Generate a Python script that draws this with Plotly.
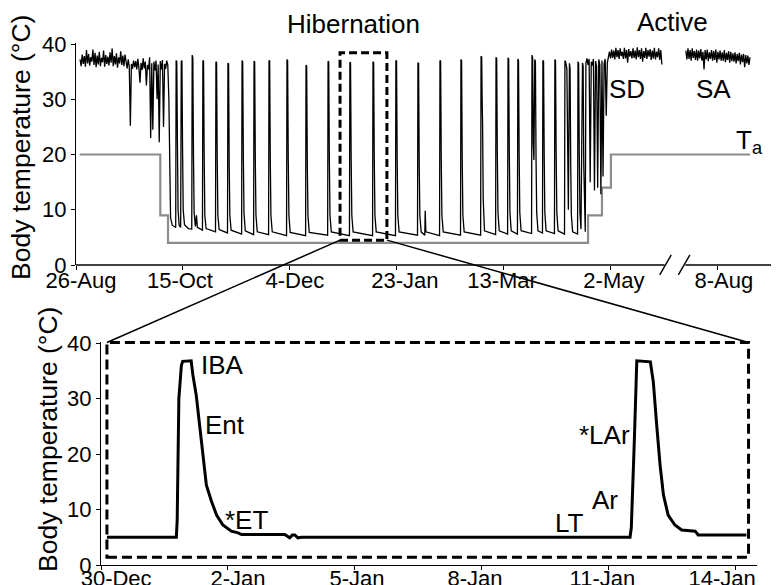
import plotly.graph_objects as go

W, H = 780, 585
FONT = "Liberation Sans, Arial, Helvetica, sans-serif"

# ---------------- DATA : top panel (days since 26-Aug) ----------------
pre_start_day = 1.9
pre_step_day = 0.5
pre_temp = [
    37.2, 36.0, 38.1, 36.4, 37.8, 35.9, 38.9, 36.5, 38.2, 36.1, 37.6, 36.8, 39.0, 36.2,
    38.4, 35.8, 37.9, 36.3, 38.6, 36.0, 37.5, 36.7, 38.8, 35.9, 38.0, 36.4, 37.7, 36.1,
    38.5, 36.6, 39.2, 36.0, 37.8, 36.3, 38.3, 35.7, 37.6, 36.5, 38.7, 36.2, 37.9, 36.0,
    38.1,
    36.8, 35.6, 37.2, 35.9, 25.2, 36.4, 35.5, 37.0, 35.8, 36.9, 35.4, 37.3, 35.7, 33.0,
    36.6, 35.3, 37.4, 35.6, 36.8, 32.5, 36.2, 35.4, 37.6, 23.0, 36.5, 24.5, 36.8, 35.2,
    37.0, 30.0, 36.3, 22.2, 36.9, 35.4, 37.1, 25.0, 36.4, 35.5, 37.0, 36.2,
]

hib_points = [
    (43.4, 30.0), (43.8, 14.0), (44.2, 8.5), (45.0, 7.2), (46.6, 6.8),
    (46.8, 37.0), (47.1, 36.8), (47.4, 22.0), (47.7, 10.0), (48.2, 7.2), (48.9, 6.8),
    (49.2, 36.8), (49.5, 37.0), (49.8, 21.0), (50.1, 10.0), (50.7, 7.3), (52.5, 6.6), (54.1, 6.5),
    (54.3, 38.0), (54.6, 37.5), (54.9, 20.0), (55.2, 9.5), (55.8, 7.0), (56.3, 9.0), (56.7, 6.8), (59.1, 6.3),
    (59.3, 36.9), (59.6, 37.0), (59.9, 20.0), (60.2, 9.0), (60.8, 6.6), (65.2, 6.0),
    (65.4, 36.8), (65.7, 36.6), (66.0, 19.0), (66.3, 9.0), (66.9, 6.4), (70.8, 5.8),
    (71.0, 36.5), (71.3, 36.4), (71.6, 18.0), (71.9, 9.0), (72.5, 6.3), (77.4, 5.6),
    (77.6, 37.0), (77.9, 36.8), (78.2, 20.0), (78.5, 9.5), (79.1, 6.2), (83.0, 5.5),
    (83.2, 36.9), (83.5, 36.8), (83.8, 19.0), (84.1, 9.0), (84.7, 6.0), (90.0, 5.5),
    (90.2, 37.0), (90.5, 36.9), (90.8, 19.0), (91.1, 9.0), (91.7, 6.0), (98.4, 5.3),
    (98.6, 37.2), (98.9, 37.0), (99.2, 19.0), (99.5, 9.0), (100.1, 5.9), (107.3, 5.3),
    (107.5, 36.2), (107.8, 36.0), (108.1, 18.0), (108.4, 9.0), (109.0, 5.9), (117.6, 5.4),
    (117.8, 36.9), (118.1, 36.8), (118.4, 19.0), (118.7, 9.0), (119.3, 6.0), (127.8, 5.3),
    (128.0, 36.7), (128.3, 36.6), (128.6, 19.0), (128.9, 9.0), (129.5, 6.0), (138.6, 5.3),
    (138.8, 36.8), (139.1, 36.6), (139.4, 19.0), (139.7, 9.0), (140.3, 6.0), (149.3, 5.3),
    (149.5, 37.0), (149.8, 36.9), (150.1, 19.0), (150.4, 9.0), (151.0, 6.0), (159.6, 5.4),
    (159.8, 36.6), (160.1, 36.5), (160.4, 18.0), (160.7, 9.0), (161.3, 6.0), (163.0, 5.4),
    (163.2, 9.8), (163.5, 6.0), (169.9, 5.3),
    (170.1, 37.0), (170.4, 36.9), (170.7, 19.0), (171.0, 9.0), (171.6, 6.0), (179.7, 5.4),
    (179.9, 37.2), (180.2, 37.0), (180.5, 19.0), (180.8, 9.0), (181.4, 6.0), (189.1, 5.4),
    (189.3, 37.8), (189.6, 37.6), (189.8, 30.0), (190.0, 26.0), (190.3, 12.0), (190.9, 6.2), (196.1, 5.5),
    (196.3, 37.6), (196.6, 37.3), (196.9, 20.0), (197.2, 9.5), (197.8, 6.2), (201.7, 5.6),
    (201.9, 37.5), (202.2, 37.3), (202.5, 20.0), (202.8, 9.5), (203.4, 6.2), (206.3, 5.6),
    (206.5, 37.3), (206.8, 37.0), (207.1, 20.0), (207.4, 9.5), (208.0, 6.2), (212.9, 5.7),
    (213.1, 38.0), (213.4, 37.5), (213.7, 22.0), (214.0, 19.0), (214.4, 37.2), (214.7, 36.8),
    (215.0, 19.0), (215.3, 9.5), (215.9, 6.2), (218.0, 5.8),
    (218.2, 37.0), (218.5, 36.9), (218.8, 20.0), (219.1, 9.5), (219.7, 6.2), (223.6, 5.7),
    (223.8, 37.2), (224.1, 37.0), (224.4, 20.0), (224.7, 9.5), (225.3, 6.2), (228.3, 5.6),
    (228.5, 37.0), (228.8, 36.8), (229.4, 35.5), (229.8, 22.0), (230.1, 10.0), (230.6, 36.5),
    (230.9, 35.5), (231.2, 18.0), (231.5, 9.0), (232.1, 6.0), (234.4, 5.6),
    (234.6, 36.8), (234.9, 36.5), (235.2, 20.0), (235.5, 9.5), (236.0, 6.5), (236.7, 36.6),
    (237.0, 36.0), (237.3, 18.0), (237.6, 8.5), (238.0, 6.0),
]

act1_start_day = 238.3
act1_step_day = 0.5
act1_temp = [
    36.5, 37.4, 36.2, 37.3, 15.0, 36.8, 36.1, 37.3, 13.5, 36.9, 36.0, 14.0, 37.2, 36.3,
    12.8, 37.0, 16.0, 36.4, 37.3, 27.0, 36.6, 37.8,
    38.6, 37.4, 39.0, 37.5, 38.8, 37.2, 39.3, 37.6, 38.9, 37.3, 39.2, 37.8, 38.6, 37.3,
    39.3, 37.4, 38.9, 36.6, 39.1, 37.7, 38.7, 37.4, 39.2, 37.5, 38.8, 37.2, 39.4, 37.6,
    38.9, 37.3, 39.2, 36.8, 38.7, 37.5, 39.3, 37.3, 38.9, 37.7, 39.1, 37.1, 38.8, 37.4,
    39.3, 37.2, 38.6, 37.6, 39.2, 37.1, 38.9, 36.3,
]

act2_start_day = 285.0
act2_step_day = 0.5
act2_temp = [
    38.8, 37.2, 39.2, 37.3, 38.9, 37.0, 39.2, 37.5, 38.7, 37.1, 39.0, 37.0, 38.8, 37.4,
    39.1, 37.0, 38.6, 35.4, 38.9, 37.2, 39.0, 36.9, 38.5, 37.3, 38.9, 37.0, 38.7, 37.1,
    39.0, 36.6, 38.6, 37.2, 38.8, 37.0, 38.5, 37.0, 38.9, 36.7, 38.4, 37.1, 38.7, 36.6,
    38.6, 36.9, 38.3, 36.8, 38.5, 36.5, 38.2, 36.9, 38.4, 36.3, 38.1, 36.7, 38.2, 35.8,
    38.0, 36.5, 37.9, 36.2, 37.6,
]

ta_day = [1.7, 39.4, 43.0, 239.3, 245.8, 250.0, 315.0]
ta_temp = [20, 9, 4, 9, 14, 20, 20]

# tick marks and (slightly offset, as in the original figure) tick-label positions
top_tick_days = [0, 50, 100, 150, 200, 250, 300]
top_label_days = [6.5, 52.8, 106.5, 157.9, 203.3, 255.6, 307.0]
top_tick_labels = ["26-Aug", "15-Oct", "4-Dec", "23-Jan", "13-Mar", "2-May", "8-Aug"]
y_ticks = [0, 10, 20, 30, 40]

# ---------------- DATA : bottom panel (days since 30-Dec) ----------------
zoom_day = [0.14, 1.78, 1.80, 1.84, 1.90, 1.93, 2.13, 2.17, 2.25, 2.33, 2.41, 2.49, 2.61,
            2.73, 2.88, 3.08, 3.24, 3.32, 4.34, 4.46, 4.52, 4.58, 4.65, 4.74, 12.50, 12.53,
            12.60, 12.66, 12.98, 13.05, 13.13, 13.21, 13.29, 13.40, 13.56, 13.72, 14.04,
            14.11, 15.25]
zoom_temp = [5.0, 5.0, 8.0, 30.0, 36.0, 36.7, 36.8, 34.3, 30.6, 25.2, 19.3, 14.4, 11.5,
             9.0, 7.2, 6.1, 5.8, 5.5, 5.5, 4.9, 5.4, 5.4, 4.9, 5.0, 5.0, 6.7,
             22.0, 36.8, 36.6, 33.0, 25.2, 18.0, 12.6, 9.0, 7.2, 6.3, 6.1,
             5.4, 5.4]
bottom_tick_days = [0, 3, 6, 9, 12, 15]
bottom_label_days = [0.57, 3.45, 6.26, 9.05, 12.06, 14.89]
bottom_tick_labels = ["30-Dec", "2-Jan", "5-Jan", "8-Jan", "11-Jan", "14-Jan"]

# zoom window shown on the top panel (days since 26-Aug, degC)
zoom_win_day = [123.4, 145.3]
zoom_win_temp = [4.5, 38.4]
# frame of the bottom panel (days since 30-Dec, degC)
frame_day = [0.14, 15.3]
frame_temp = [1.4, 40.1]
# x-axis break on the top panel (days)
break_day = [275.6, 284.3]

# ---------------- layout geometry ----------------
TOP_XR, TOP_XD = [0, 324.8], [68 / W, 763 / W]
TOP_YR, TOP_YD = [0, 40.2], [1 - 257 / H, 1 - 34.9 / H]
BOT_XR, BOT_XD = [0, 15.5], [93 / W, 749 / W]
BOT_YR, BOT_YD = [0, 40.2], [1 - 557 / H, 1 - 333.9 / H]


def conv(v, r, d):
    return d[0] + (v - r[0]) / (r[1] - r[0]) * (d[1] - d[0])


def tpx(v): return conv(v, TOP_XR, TOP_XD)
def tpy(v): return conv(v, TOP_YR, TOP_YD)
def bpx(v): return conv(v, BOT_XR, BOT_XD)
def bpy(v): return conv(v, BOT_YR, BOT_YD)


# ---------------- traces ----------------
pre_day = [pre_start_day + i * pre_step_day for i in range(len(pre_temp))]
act1_day = [act1_start_day + i * act1_step_day for i in range(len(act1_temp))]
act2_day = [act2_start_day + i * act2_step_day for i in range(len(act2_temp))]
hib_day = [p[0] for p in hib_points]
hib_temp = [p[1] for p in hib_points]

tb_day = pre_day + hib_day + act1_day + [None] + act2_day
tb_temp = pre_temp + hib_temp + act1_temp + [None] + act2_temp

fig = go.Figure()
fig.add_trace(go.Scatter(x=ta_day, y=ta_temp, mode="lines", line=dict(color="#8c8c8c", width=2.2, shape="hv"),
                         xaxis="x", yaxis="y", hoverinfo="skip"))
fig.add_trace(go.Scatter(x=tb_day, y=tb_temp, mode="lines", line=dict(color="black", width=1.3),
                         xaxis="x", yaxis="y", connectgaps=False, hoverinfo="skip"))
fig.add_trace(go.Scatter(x=zoom_day, y=zoom_temp, mode="lines", line=dict(color="black", width=3),
                         xaxis="x2", yaxis="y2", hoverinfo="skip"))
# empty traces that only register the tick-label axes
fig.add_trace(go.Scatter(x=[], y=[], mode="lines", xaxis="x3", yaxis="y", hoverinfo="skip"))
fig.add_trace(go.Scatter(x=[], y=[], mode="lines", xaxis="x4", yaxis="y2", hoverinfo="skip"))

tickfont = dict(family=FONT, size=22, color="black")
axis_common = dict(ticks="outside", ticklen=4, tickwidth=1.2, tickcolor="black",
                   showgrid=False, zeroline=False, tickfont=tickfont, automargin=False)
label_axis = dict(ticks="", showline=False, showgrid=False, zeroline=False, tickfont=tickfont,
                  automargin=False, ticklabelshift=-9)

fig.update_layout(
    width=W, height=H, margin=dict(l=0, r=0, t=0, b=0),
    paper_bgcolor="white", plot_bgcolor="rgba(0,0,0,0)", showlegend=False,
    font=dict(family=FONT, color="black"),
    xaxis=dict(domain=TOP_XD, range=TOP_XR, tickvals=top_tick_days, showticklabels=False,
               showline=False, anchor="y", **axis_common),
    yaxis=dict(domain=TOP_YD, range=TOP_YR, tickvals=y_ticks, showline=True, linecolor="black",
               linewidth=1.3, anchor="x", **axis_common),
    xaxis2=dict(domain=BOT_XD, range=BOT_XR, tickvals=bottom_tick_days, showticklabels=False,
                showline=True, linecolor="black", linewidth=1.3, anchor="y2", **axis_common),
    yaxis2=dict(domain=BOT_YD, range=BOT_YR, tickvals=y_ticks, showline=True, linecolor="black",
                linewidth=1.3, anchor="x2", **axis_common),
    xaxis3=dict(domain=TOP_XD, range=TOP_XR, tickvals=top_label_days, ticktext=top_tick_labels,
                overlaying="x", anchor="y", side="bottom", ticklabelstandoff=0, **label_axis),
    xaxis4=dict(domain=BOT_XD, range=BOT_XR, tickvals=bottom_label_days, ticktext=bottom_tick_labels,
                overlaying="x2", anchor="y2", side="bottom", ticklabelstandoff=-2, **label_axis),
)

shapes = []
# top x-axis line with a break
y0p = tpy(0)
shapes.append(dict(type="line", xref="paper", yref="paper", x0=tpx(0), x1=tpx(break_day[0] - 0.5),
                   y0=y0p, y1=y0p, line=dict(color="black", width=1.4)))
shapes.append(dict(type="line", xref="paper", yref="paper", x0=tpx(break_day[1] + 0.5), x1=tpx(TOP_XR[1]),
                   y0=y0p, y1=y0p, line=dict(color="black", width=1.4)))
for bd in break_day:
    shapes.append(dict(type="line", xref="paper", yref="paper", x0=tpx(bd - 2.8), x1=tpx(bd + 2.6),
                       y0=tpy(-1.8), y1=tpy(1.85), line=dict(color="black", width=1.4)))
# dashed zoom window on top panel
shapes.append(dict(type="rect", xref="paper", yref="paper",
                   x0=tpx(zoom_win_day[0]), x1=tpx(zoom_win_day[1]),
                   y0=tpy(zoom_win_temp[0]), y1=tpy(zoom_win_temp[1]),
                   line=dict(color="black", width=3, dash="8px,4px")))
# dashed frame in bottom panel
shapes.append(dict(type="rect", xref="paper", yref="paper",
                   x0=bpx(frame_day[0]), x1=bpx(frame_day[1]),
                   y0=bpy(frame_temp[0]), y1=bpy(frame_temp[1]),
                   line=dict(color="black", width=3, dash="10px,5px")))
# connector lines
shapes.append(dict(type="line", xref="paper", yref="paper",
                   x0=tpx(zoom_win_day[0]), y0=tpy(zoom_win_temp[0]),
                   x1=bpx(frame_day[0]), y1=bpy(frame_temp[1]), line=dict(color="black", width=1.5)))
shapes.append(dict(type="line", xref="paper", yref="paper",
                   x0=tpx(zoom_win_day[1]), y0=tpy(zoom_win_temp[0]),
                   x1=bpx(frame_day[1]), y1=bpy(frame_temp[1]), line=dict(color="black", width=1.5)))
fig.update_layout(shapes=shapes)


def ann(text, px, py, xanchor="center", size=26):
    return dict(text=text, x=px / W, y=1 - py / H, xref="paper", yref="paper", showarrow=False,
                xanchor=xanchor, yanchor="middle", font=dict(family=FONT, size=size, color="black"))


annotations = [
    ann("Hibernation", 345, 16),
    ann("Active", 664, 14),
    ann("SD", 619, 81),
    ann("SA", 705, 81),
    ann("T<sub>a</sub>", 726, 134, xanchor="left"),
    ann("IBA", 214, 357),
    ann("Ent", 217, 417),
    ann("*ET", 238, 512),
    ann("*LAr", 596, 427),
    ann("Ar", 597, 492),
    ann("LT", 561, 515),
]
annotations.append(dict(text="Body temperature (°C)", x=13 / W, y=1 - 140 / H, xref="paper", yref="paper",
                        showarrow=False, textangle=-90, xanchor="center", yanchor="middle",
                        font=dict(family=FONT, size=26.5, color="black")))
annotations.append(dict(text="Body temperature (°C)", x=40 / W, y=1 - 432 / H, xref="paper", yref="paper",
                        showarrow=False, textangle=-90, xanchor="center", yanchor="middle",
                        font=dict(family=FONT, size=26.5, color="black")))
fig.update_layout(annotations=annotations)

fig.write_html("out.html")
